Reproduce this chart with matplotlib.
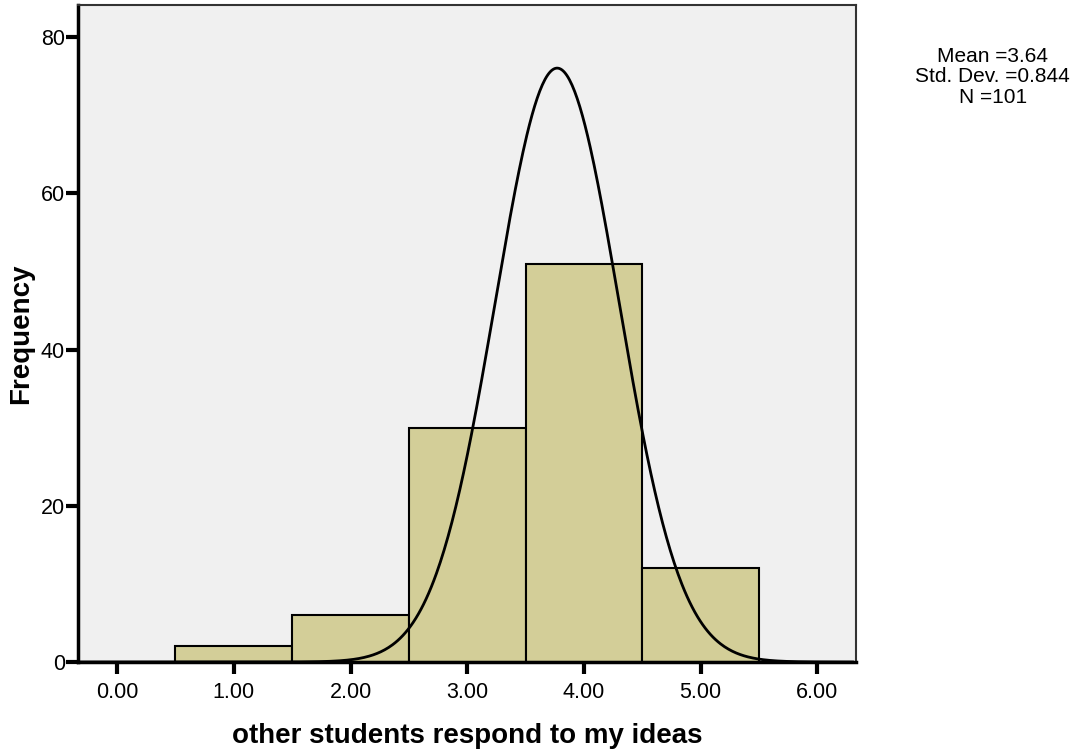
import numpy as np
import matplotlib.pyplot as plt

plt.rcParams['font.family'] = ['Liberation Sans', 'DejaVu Sans']

# histogram data (bin centres and counts)
bin_centers = [1, 2, 3, 4, 5]
counts = [2, 6, 30, 51, 12]

# normal curve as drawn in the chart
curve_mean = 3.77
curve_sd = 0.53
n_total = 101

x_ticks = [0, 1, 2, 3, 4, 5, 6]
x_tick_labels = ['0.00', '1.00', '2.00', '3.00', '4.00', '5.00', '6.00']
y_ticks = [0, 20, 40, 60, 80]
stats_text = 'Mean =3.64\nStd. Dev. =0.844\nN =101'

fig = plt.figure(figsize=(10.72, 7.51), dpi=100)
ax = fig.add_axes([0.0728, 0.1185, 0.7257, 0.8748])
ax.set_facecolor('#f0f0f0')

ax.bar(bin_centers, counts, width=1.0, color='#d3ce98', edgecolor='black',
       linewidth=1.5, zorder=2)

xs = np.linspace(-0.33, 6.3, 600)
ys = n_total / (curve_sd * np.sqrt(2 * np.pi)) * np.exp(-0.5 * ((xs - curve_mean) / curve_sd) ** 2)
ax.plot(xs, ys, color='black', linewidth=2, zorder=3)

ax.set_xlim(-0.334, 6.33)
ax.set_ylim(0, 84.1)
ax.set_xticks(x_ticks)
ax.set_xticklabels(x_tick_labels)
ax.set_yticks(y_ticks)
ax.tick_params(axis='both', direction='out', length=8.5, width=3, labelsize=15.5)
ax.tick_params(axis='x', pad=6)
ax.tick_params(axis='y', pad=1)

for side in ['left', 'bottom']:
    ax.spines[side].set_linewidth(2.5)
for side in ['top', 'right']:
    ax.spines[side].set_linewidth(1.5)
    ax.spines[side].set_color('#333333')

ax.set_xlabel('other students respond to my ideas', fontsize=20, fontweight='bold', labelpad=14)
ax.set_ylabel('Frequency', fontsize=20, fontweight='bold', labelpad=5)

fig.text(0.926, 0.938, stats_text, ha='center', va='top', fontsize=15, linespacing=1.1)

fig.savefig('out.png', dpi=100)
